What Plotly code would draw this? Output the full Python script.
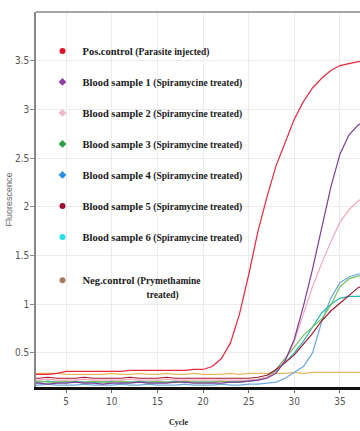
import plotly.graph_objects as go

cycles = list(range(1, 41))

pos_control = [0.28,0.28,0.28,0.29,0.31,0.31,0.31,0.31,0.31,0.31,0.31,0.32,0.32,0.32,0.32,0.32,0.32,0.32,0.33,0.33,
               0.36,0.44,0.60,0.90,1.30,1.74,2.10,2.42,2.66,2.90,3.08,3.22,3.32,3.40,3.45,3.47,3.49,3.50,3.50,3.51]
sample1 = [0.19,0.19,0.18,0.19,0.19,0.20,0.19,0.19,0.18,0.19,0.19,0.19,0.20,0.19,0.19,0.19,0.20,0.20,0.19,0.19,
           0.19,0.19,0.20,0.20,0.21,0.22,0.24,0.29,0.42,0.64,0.98,1.36,1.78,2.20,2.54,2.74,2.84,2.89,2.91,2.92]
sample2 = [0.22,0.22,0.23,0.22,0.22,0.22,0.23,0.22,0.22,0.22,0.22,0.23,0.22,0.22,0.22,0.23,0.22,0.22,0.22,0.22,
           0.22,0.22,0.22,0.22,0.22,0.23,0.25,0.30,0.42,0.62,0.90,1.18,1.42,1.64,1.84,1.97,2.06,2.12,2.16,2.19]
sample3 = [0.20,0.21,0.20,0.20,0.21,0.20,0.20,0.21,0.20,0.20,0.21,0.20,0.20,0.20,0.21,0.20,0.20,0.21,0.20,0.20,
           0.20,0.21,0.20,0.21,0.21,0.22,0.25,0.33,0.44,0.56,0.68,0.77,0.85,0.99,1.18,1.26,1.29,1.30,1.31,1.31]
sample4 = [0.17,0.17,0.18,0.17,0.17,0.17,0.18,0.17,0.17,0.17,0.18,0.17,0.17,0.18,0.17,0.17,0.17,0.18,0.17,0.17,
           0.17,0.18,0.17,0.17,0.18,0.18,0.19,0.20,0.24,0.30,0.36,0.50,0.82,1.06,1.22,1.28,1.31,1.32,1.33,1.33]
sample5 = [0.24,0.24,0.25,0.24,0.24,0.24,0.25,0.24,0.24,0.24,0.24,0.25,0.24,0.24,0.24,0.25,0.24,0.24,0.24,0.24,
           0.24,0.24,0.24,0.24,0.24,0.25,0.27,0.33,0.40,0.48,0.59,0.70,0.83,0.93,1.01,1.09,1.17,1.21,1.24,1.26]
sample6 = [0.20,0.20,0.21,0.20,0.20,0.21,0.20,0.20,0.20,0.21,0.20,0.20,0.21,0.20,0.20,0.20,0.21,0.20,0.20,0.20,
           0.20,0.21,0.20,0.20,0.21,0.22,0.25,0.32,0.40,0.50,0.62,0.76,0.91,1.00,1.06,1.08,1.08,1.09,1.09,1.09]
neg_control = [0.29,0.29,0.29,0.29,0.28,0.28,0.28,0.28,0.28,0.29,0.28,0.28,0.29,0.28,0.28,0.29,0.28,0.28,0.29,0.28,
               0.28,0.28,0.29,0.28,0.29,0.29,0.29,0.29,0.29,0.30,0.29,0.30,0.30,0.30,0.30,0.30,0.30,0.30,0.30,0.30]

names = ["Pos.control", "Blood sample 1", "Blood sample 2", "Blood sample 3",
         "Blood sample 4", "Blood sample 5", "Blood sample 6", "Neg.control"]
notes = ["(Parasite injected)", "(Spiramycine treated)", "(Spiramycine treated)", "(Spiramycine treated)",
         "(Spiramycine treated)", "(Spiramycine treated)", "(Spiramycine treated)", "(Prymethamine<br>treated)"]
series = [pos_control, sample1, sample2, sample3, sample4, sample5, sample6, neg_control]

line_colors = ["#e8283c", "#7d3c98", "#f4a8b8", "#78c060", "#6aa8e0", "#a01830", "#20b8b0", "#e8b860"]
marker_colors = ["#e0102a", "#8e3fa0", "#f2b8c6", "#2e9e44", "#2b8fe0", "#9b1030", "#20e0e8", "#a97860"]
symbols = ["circle", "diamond", "diamond", "diamond", "diamond", "circle", "circle", "circle"]

fig = go.Figure()

draw_order = [7, 4, 6, 3, 5, 2, 1, 0]
for i in draw_order:
    fig.add_trace(go.Scatter(x=cycles, y=series[i], mode="lines",
                             line=dict(color=line_colors[i], width=1.2),
                             showlegend=False, hoverinfo="skip"))

nb = "\u00a0"
for i in range(8):
    note = notes[i]
    if i == 7:
        note = note.replace("<br>", "<br>" + nb * 27)
    label = ("<b>" + names[i] + "</b>" + nb + "<span style='font-size:9.5px'><b>" + note + "</b></span>")
    fig.add_trace(go.Scatter(x=[None], y=[None], mode="markers",
                             marker=dict(color=marker_colors[i], symbol=symbols[i], size=6),
                             name=label, legendgroup="g%d" % i,
                             legend="legend2" if i == 7 else "legend"))

tick_font = dict(family="DejaVu Sans Condensed, Liberation Sans Narrow, Arial Narrow, sans-serif",
                 size=10, color="#555555")
legend_font = dict(family="Liberation Serif, Times New Roman, serif", size=10.5, color="#1a1a1a")

fig.update_layout(
    width=360, height=431,
    margin=dict(l=36, r=0, t=12, b=44),
    paper_bgcolor="white", plot_bgcolor="white",
    xaxis=dict(range=[1.7, 37.2], tickvals=[5, 10, 15, 20, 25, 30, 35, 40],
               showgrid=True, gridcolor="#ececec", gridwidth=1, zeroline=False,
               showline=True, linecolor="#111111", linewidth=2.5,
               ticks="outside", ticklen=3, tickcolor="#666666", tickfont=tick_font),
    yaxis=dict(range=[0.15, 4.0], tickvals=[0.5, 1, 1.5, 2, 2.5, 3, 3.5],
               ticktext=["0.5", "1", "1.5", "2", "2.5", "3", "3.5"],
               showgrid=True, gridcolor="#ececec", gridwidth=1, zeroline=False,
               showline=True, linecolor="#888888", linewidth=1.5,
               ticks="outside", ticklen=4, tickcolor="#888888", tickfont=tick_font,
               ticklabelstandoff=-1, automargin=False,
               title=dict(text="Fluorescence", standoff=1,
                          font=dict(family="Liberation Sans, Arial, sans-serif", size=9, color="#666666"))),
    legend=dict(x=0.02, y=0.935, xanchor="left", yanchor="top", bgcolor="rgba(0,0,0,0)",
                font=legend_font, tracegroupgap=12, itemclick=False),
    legend2=dict(x=0.02, y=0.32, xanchor="left", yanchor="top", bgcolor="rgba(0,0,0,0)",
                 font=legend_font, valign="top"),
    shapes=[dict(type="line", xref="paper", yref="paper", x0=0, x1=1, y0=1, y1=1,
                 line=dict(color="#888888", width=1.5))],
    annotations=[dict(text="<b>Cycle</b>", xref="paper", yref="paper", x=0.44, y=-0.095,
                      showarrow=False, xanchor="center", yanchor="middle",
                      font=dict(family="Liberation Serif, Times New Roman, serif", size=8, color="#222222"))],
    showlegend=True,
)

fig.write_html("out.html", config={"displayModeBar": False},
               post_script="document.body.style.margin='0px';")
